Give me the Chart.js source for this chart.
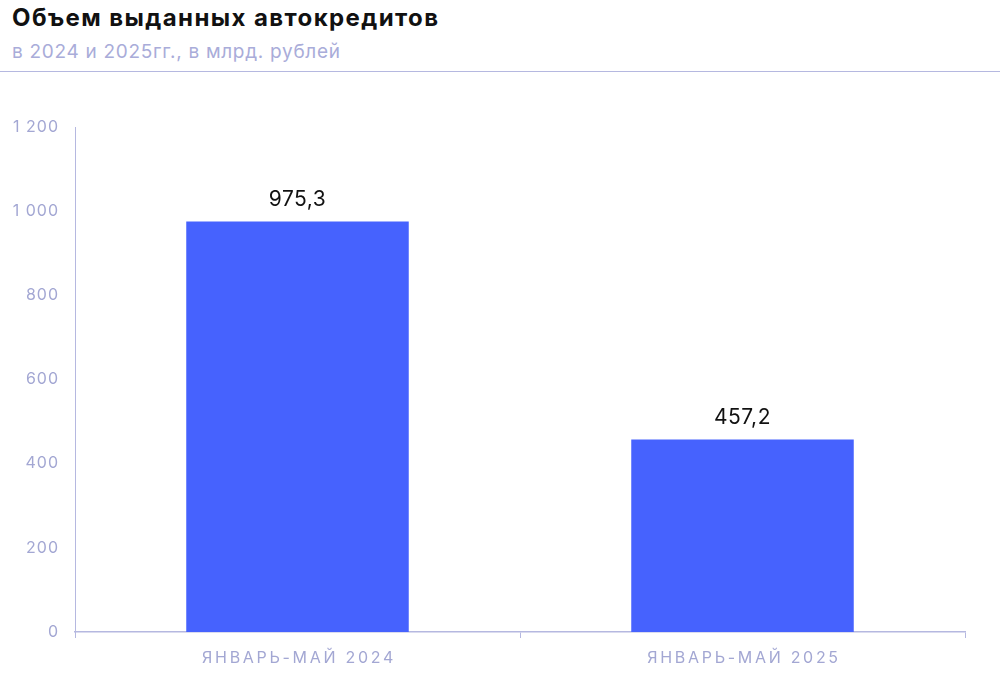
<!DOCTYPE html>
<html lang="ru">
<head>
<meta charset="utf-8">
<script src="https://cdn.jsdelivr.net/npm/chart.js@4"></script>
<style>
    html, body { margin: 0; padding: 0; background: #fff; }
    #wrap { position: relative; width: 1000px; height: 678px; overflow: hidden; }
    #title { position: absolute; left: 12px; top: 3px; font: 700 24px Inter, "Noto Sans", sans-serif; color: #111; letter-spacing: 1.4px; }
    #subtitle { position: absolute; left: 12px; top: 40px; font: 400 19px Inter, "Noto Sans", sans-serif; color: #a9acd9; letter-spacing: 0.7px; }
    #rule { position: absolute; left: 0; top: 71px; width: 1000px; height: 1px; background: #b5b8e0; }
    #chartBox { position: absolute; left: 0; top: 0; width: 1000px; height: 678px; }
</style>
</head>
<body>
<div id="wrap">
    <div id="title">Объем выданных автокредитов</div>
    <div id="subtitle">в 2024 и 2025гг., в млрд. рублей</div>
    <div id="rule"></div>
    <div id="chartBox"><canvas id="autoChart"></canvas></div>
</div>
<script>
const categories = ['ЯНВАРЬ-МАЙ 2024', 'ЯНВАРЬ-МАЙ 2025'];
const volumes = [975.3, 457.2];
const yTicks = [0, 200, 400, 600, 800, 1000, 1200];

const axisColor = '#b5b8e0';
const labelColor = '#a3a7d3';

function fmtThousands(v) {
    return String(v).replace(/\B(?=(\d{3})+(?!\d))/g, ' ');
}

// разрядка для подписей оси Y, потом подписи X и значения
const spacedText = {
    id: 'spacedText',
    beforeDraw(chart) {
        chart.ctx.letterSpacing = '1px';
    },
    afterDraw(chart) {
        const ctx = chart.ctx;
        const x = chart.scales.x;
        ctx.save();
        ctx.letterSpacing = '2.7px';
        ctx.font = '400 16px Inter, "Noto Sans", sans-serif';
        ctx.fillStyle = labelColor;
        ctx.textAlign = 'center';
        ctx.textBaseline = 'middle';
        categories.forEach((c, i) => {
            ctx.fillText(c, x.getPixelForTick(i) + 1.5, x.top + 26);
        });
        ctx.restore();

        const meta = chart.getDatasetMeta(0);
        ctx.save();
        ctx.letterSpacing = '0.5px';
        ctx.font = '400 21px Inter, "Noto Sans", sans-serif';
        ctx.fillStyle = '#111';
        ctx.textAlign = 'center';
        ctx.textBaseline = 'bottom';
        meta.data.forEach((bar, i) => {
            const txt = volumes[i].toFixed(1).replace('.', ',');
            ctx.fillText(txt, bar.x, bar.y - 11);
        });
        ctx.restore();
        ctx.letterSpacing = '0px';
    }
};

const ctx = document.getElementById('autoChart').getContext('2d');
new Chart(ctx, {
    type: 'bar',
    data: {
        labels: categories,
        datasets: [{
            data: volumes,
            backgroundColor: '#4662fe',
            borderWidth: 0,
            barPercentage: 0.5,
            categoryPercentage: 1.0
        }]
    },
    options: {
        responsive: true,
        maintainAspectRatio: false,
        animation: false,
        layout: { padding: { top: 127, right: 35, bottom: 0, left: 0 } },
        plugins: {
            legend: { display: false },
            tooltip: { enabled: false }
        },
        scales: {
            x: {
                afterFit: s => { s.height = 46; },
                border: { display: true, color: axisColor, width: 1.5 },
                grid: {
                    display: true,
                    drawOnChartArea: false,
                    drawTicks: true,
                    tickLength: 6,
                    color: axisColor
                },
                ticks: { display: false }
            },
            y: {
                min: 0,
                max: 1200,
                afterFit: s => { s.width = 75; },
                afterBuildTicks: s => { s.ticks = yTicks.map(v => ({ value: v })); },
                border: { display: true, color: axisColor, width: 1 },
                grid: { display: false, drawTicks: false },
                ticks: {
                    color: labelColor,
                    padding: 16,
                    font: { family: 'Inter, "Noto Sans", sans-serif', size: 16 },
                    callback: v => fmtThousands(v)
                }
            }
        }
    },
    plugins: [spacedText]
});
</script>
</body>
</html>
